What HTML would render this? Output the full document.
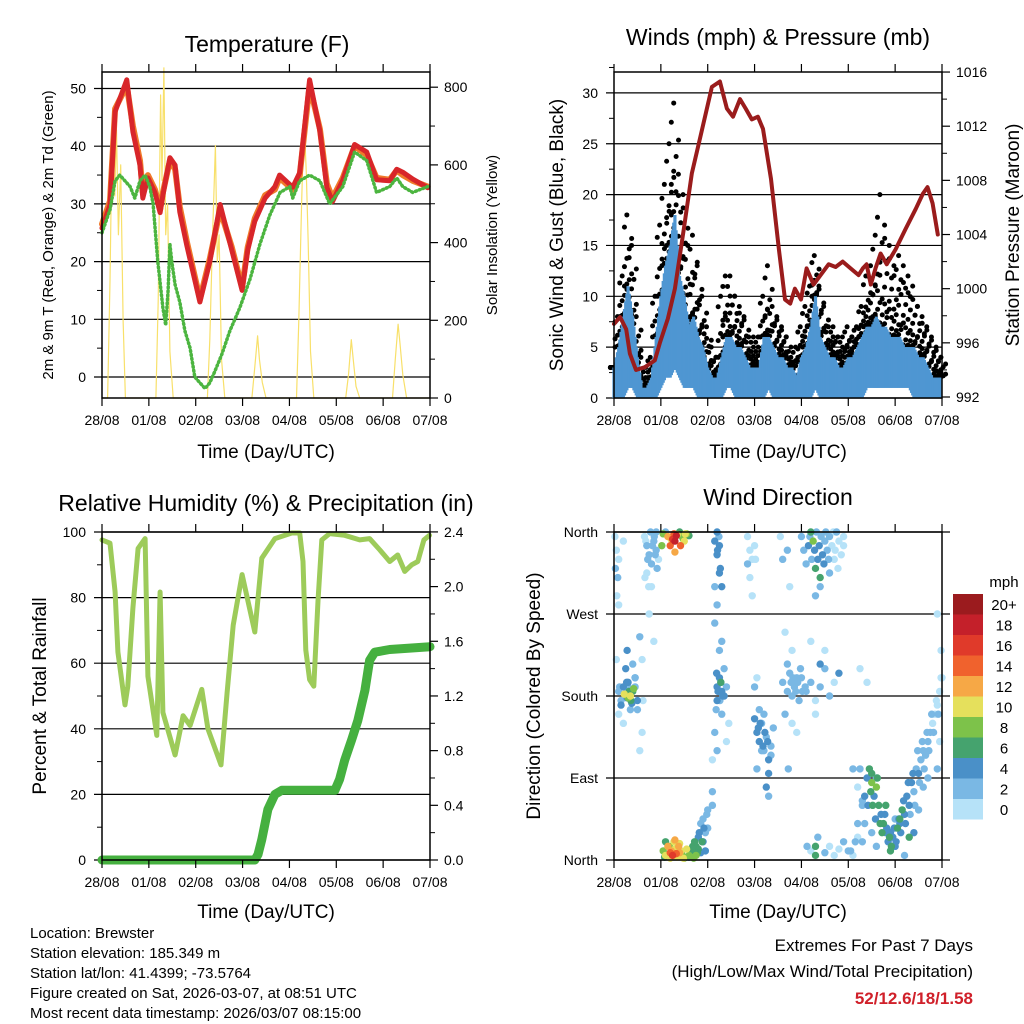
<!DOCTYPE html>
<html><head><meta charset="utf-8"><style>
body{margin:0;background:#fff}
svg{display:block;font-family:"Liberation Sans",sans-serif}
</style></head><body>
<svg id="s" width="1024" height="1024" viewBox="0 0 1024 1024" xmlns="http://www.w3.org/2000/svg">
<g font-size="23" text-anchor="middle" fill="#000">
<text x="267" y="52">Temperature (F)</text>
<text x="778" y="45">Winds (mph) &amp; Pressure (mb)</text>
<text x="266" y="511">Relative Humidity (%) &amp; Precipitation (in)</text>
<text x="778" y="505">Wind Direction</text>
</g>
<g font-size="19" text-anchor="middle">
<text x="266" y="458">Time (Day/UTC)</text>
<text x="778" y="458">Time (Day/UTC)</text>
<text x="266" y="918">Time (Day/UTC)</text>
<text x="778" y="918">Time (Day/UTC)</text>
<text transform="translate(563,235) rotate(-90)">Sonic Wind &amp; Gust (Blue, Black)</text>
<text transform="translate(1019,235) rotate(-90)">Station Pressure (Maroon)</text>
<text transform="translate(46,696) rotate(-90)">Percent &amp; Total Rainfall</text>
<text transform="translate(540,696) rotate(-90)">Direction (Colored By Speed)</text>
</g>
<g font-size="15" text-anchor="middle">
<text transform="translate(53,235) rotate(-90)">2m &amp; 9m T (Red, Orange) &amp; 2m Td (Green)</text>
<text transform="translate(497,235) rotate(-90)">Solar Insolation (Yellow)</text>
</g>
<g font-size="15">
<text x="30" y="938">Location: Brewster</text>
<text x="30" y="958">Station elevation: 185.349 m</text>
<text x="30" y="978">Station lat/lon: 41.4399; -73.5764</text>
<text x="30" y="998">Figure created on Sat, 2026-03-07, at 08:51 UTC</text>
<text x="30" y="1018">Most recent data timestamp: 2026/03/07 08:15:00</text>
</g>
<g font-size="17" text-anchor="end">
<text x="973" y="951">Extremes For Past 7 Days</text>
<text x="973" y="977">(High/Low/Max Wind/Total Precipitation)</text>
<text x="973" y="1004" fill="#d0202a" font-weight="bold">52/12.6/18/1.58</text>
</g>
</svg>
<script>
const dayLabels=["28/08","01/08","02/08","03/08","04/08","05/08","06/08","07/08"];
// Temperature panel
const tempT=[0,.17,.28,.53,.66,.81,.87,.98,1.13,1.24,1.30,1.45,1.56,1.66,1.81,2.09,2.30,2.52,2.77,2.99,3.11,3.26,3.48,3.69,3.79,4.07,4.22,4.43,4.65,4.80,4.92,5.14,5.39,5.65,5.86,6.14,6.29,6.42,6.63,6.95];
const tempRed=[25.8,29.8,46,51.5,42.5,36.7,31,34.5,32,28.5,31.5,38,36.7,28.6,22.8,13,20,29.9,22,15,22,27,31,33,35,32.9,35.4,51.5,42.6,32.8,30.4,34.1,40.3,39,34.2,34,36,35.5,34.3,32.8];
const tempOrange=[26.5,30.5,46.5,50.5,43.5,37.5,32,35,32.5,29,32,37.5,36,29.5,23.5,13.5,20.5,29,22.5,15.5,22.5,27.5,31.5,32.5,34.5,32.5,35,50.5,43,33.5,31,34.5,40,38.5,34.5,34.2,35.8,35,34,33];
const dewT=[0,.17,.28,.38,.60,.70,.81,.92,1.02,1.09,1.19,1.30,1.36,1.41,1.45,1.49,1.56,1.66,1.77,1.88,1.98,2.09,2.20,2.30,2.41,2.56,2.73,2.94,3.16,3.37,3.58,3.80,4.01,4.07,4.22,4.43,4.65,4.86,5.14,5.39,5.65,5.86,6.14,6.29,6.42,6.63,6.95];
const dewV=[25,29,34,35,33,31,34,35,33,30,20,12,9,15,23,20,16,13,8,5,0,-1,-2,-1,1,4,8,12,17,23,28,32,33,31,34,35,34,30,33,39,37.5,32,33,34.5,33,32,33];
const solarT=[0,.12,.17,.22,.27,.31,.35,.4,.45,.5,1.15,1.2,1.25,1.28,1.32,1.36,1.4,1.45,1.52,2.25,2.3,2.36,2.42,2.46,2.5,2.55,2.62,3.2,3.26,3.32,3.36,3.42,3.5,4.15,4.2,4.26,4.31,4.36,4.4,4.45,4.52,5.2,5.26,5.32,5.36,5.42,5.5,6.2,6.26,6.32,6.36,6.42,6.5,7];
const solarV=[0,0,300,720,520,690,420,600,200,0,0,250,780,560,850,420,500,120,0,0,150,420,650,350,420,100,0,0,80,160,100,40,0,0,200,500,720,580,400,120,0,0,60,150,100,30,0,0,100,190,140,60,0,0];
// Winds panel (sampled every 0.1 day)
const windT=[0,.1,.2,.3,.4,.5,.6,.7,.8,.9,1,1.1,1.2,1.3,1.4,1.5,1.6,1.7,1.8,1.9,2,2.1,2.2,2.3,2.4,2.5,2.6,2.7,2.8,2.9,3,3.1,3.2,3.3,3.4,3.5,3.6,3.7,3.8,3.9,4,4.1,4.2,4.3,4.4,4.5,4.6,4.7,4.8,4.9,5,5.1,5.2,5.3,5.4,5.5,5.6,5.7,5.8,5.9,6,6.1,6.2,6.3,6.4,6.5,6.6,6.7,6.8,6.9,7];
const gustV=[3,8,12,18,15,8,4,2,4,10,17,21,25,29,22,20,15,16,13,10,7,5,4,10,12,12,10,9,8,6,6,6,10,13,9,8,7,6,4,5,7,9,11,14,11,9,7,7,6,6,7,6,7,9,12,13,16,20,17,15,13,14,13,12,11,9,8,7,6,5,4];
const windV=[3,5,8,11,8,4,1,1,2,6,10,13,15,18,12,10,7,8,6,5,3,2,2,4,6,6,5,5,4,3,3,3,6,6,5,4,4,3,3,2,4,5,7,10,6,5,4,4,3,3,4,4,5,6,7,7,8,7,7,6,6,6,5,5,5,4,4,3,2,2,2];
const windLo=[0,0,0,1,1,0,0,0,0,0,1,2,2,3,2,1,1,1,0,0,0,0,0,0,1,1,0,0,0,0,0,0,0,1,0,0,0,0,0,0,0,0,0,1,0,0,0,0,0,0,0,0,0,0,1,1,1,1,1,1,1,1,1,1,0,0,0,0,0,0,0];
const presT=[0,0.13,0.26,0.34,0.47,0.66,0.87,0.98,1.15,1.3,1.49,1.66,1.83,2.09,2.26,2.41,2.54,2.69,2.81,2.94,3.07,3.18,3.35,3.52,3.65,3.76,3.86,3.99,4.11,4.26,4.41,4.58,4.73,4.88,5.05,5.22,5.31,5.39,5.48,5.58,5.69,5.82,6.01,6.22,6.44,6.59,6.69,6.8,6.91];
const presV=[997.4,997.9,997,995.2,994,994.2,994.7,996,997.8,1000,1004.4,1008.5,1011,1014.9,1015.3,1013.3,1012.7,1014,1013.3,1012.5,1012.7,1011.8,1008.1,1002.9,999.2,998.9,1000,999.2,1001.5,1000.3,1001,1001.8,1001.6,1002,1001.5,1001,1001.5,1001.8,1000.3,1001.5,1002.6,1001.8,1002.9,1004.4,1005.9,1007,1007.5,1006.3,1004];
// RH panel
const rhT=[0,.17,.28,.34,.49,.55,.66,.77,.92,.98,1.17,1.24,1.30,1.56,1.73,1.88,2.13,2.26,2.54,2.67,2.80,2.99,3.26,3.41,3.69,4.05,4.22,4.29,4.35,4.43,4.52,4.61,4.69,4.86,5.18,5.50,5.71,5.93,6.14,6.31,6.46,6.61,6.74,6.87,6.99];
const rhV=[97.6,96.6,81.7,63.4,47.3,53,76.8,95,98,56,38,81.7,45,32,44,41,52,40,29,51,71.6,87,69.5,92,98,99.7,99.7,91,64,55,53,79,97.6,99.5,99,97.6,98,94.5,91,93,88,90,91,97.6,99];
const rainT=[0,3.26,3.33,3.41,3.54,3.69,3.84,3.9,4.97,5.07,5.18,5.33,5.46,5.61,5.71,5.82,6.14,6.57,7];
const rainV=[0,0,0.04,0.15,0.37,0.48,0.51,0.51,0.51,0.59,0.73,0.88,1.02,1.24,1.46,1.52,1.54,1.55,1.56];
// Wind direction panel
const dirT=[0.02,0.05,0.03,0.08,0.1,0.06,0.1,0.1,0.15,0.2,0.25,0.3,0.35,0.4,0.38,0.3,0.45,0.25,0.4,0.45,0.1,0.2,0.5,0.6,0.55,0.05,0.35,0.65,0.7,0.75,0.8,0.85,0.9,0.7,0.8,0.9,0.95,0.75,0.85,1.05,1.15,1.25,1.3,1.35,1.45,1.5,1.55,1.2,1.3,1.4,1.6,1.05,1.1,1.15,1.2,1.25,1.3,1.35,1.4,1.45,1.5,1.1,1.3,1.2,1.4,1.6,1.65,1.7,1.75,1.8,1.85,1.9,1.95,2.0,1.9,2.0,1.85,1.75,1.8,2.1,2.1,2.15,2.2,2.25,2.2,2.3,2.25,2.15,2.2,2.3,2.25,2.2,2.15,2.2,2.25,2.35,2.4,2.3,2.45,2.4,2.35,2.3,2.2,2.1,2.28,2.85,2.9,2.95,2.9,3.0,2.95,2.85,3.0,3.05,3.1,3.15,3.2,3.25,3.3,3.3,3.1,3.2,3.35,3.4,3.25,3.3,3.0,3.05,3.6,3.7,3.75,3.8,3.85,3.9,3.95,3.7,3.8,3.65,3.75,3.6,3.7,3.55,3.65,3.8,3.9,4.0,4.05,4.1,4.15,4.2,4.25,4.3,4.35,4.4,4.45,4.5,4.55,4.6,4.7,4.8,4.9,4.4,4.3,4.6,4.75,4.0,4.1,4.2,4.3,4.4,4.5,4.6,4.7,4.8,4.5,4.3,4.2,4.4,4.3,4.3,4.35,4.2,4.5,4.6,4.7,4.8,4.9,5.0,5.1,5.2,5.2,5.25,5.3,5.35,5.4,5.45,5.5,5.5,5.55,5.6,5.65,5.7,5.75,5.8,5.85,5.9,5.95,6.0,6.05,6.1,6.15,6.2,6.25,6.3,6.35,6.4,6.45,6.5,6.55,6.6,6.65,6.7,6.75,6.8,6.85,6.9,6.95,7.0,5.4,5.5,5.3,5.6,5.9,6.0,6.2,6.4,5.2,5.1,5.7,5.8,6.1,6.3,6.5,6.6,6.7,6.9,6.95,6.98,6.9];
const dirDeg=[355,340,320,310,330,290,280,185,175,190,182,178,180,185,172,195,190,210,215,200,160,150,165,140,120,220,165,355,345,335,325,350,340,315,300,360,330,270,240,358,355,352,350,357,355,350,358,345,338,360,356,10,5,15,8,5,12,3,18,6,2,20,22,2,8,3,10,2,15,25,8,20,30,35,45,55,40,5,12,75,110,140,190,200,175,185,230,260,280,300,315,335,350,360,345,180,190,160,150,130,210,240,120,60,195,355,340,330,310,345,290,325,155,140,130,150,120,135,110,95,165,160,125,145,80,70,190,200,195,185,205,180,190,200,175,215,230,250,300,330,340,355,160,150,140,355,340,325,345,360,350,320,330,310,335,350,340,355,330,350,345,300,290,315,360,200,185,195,175,190,210,180,195,205,230,160,240,215,5,15,25,10,8,15,5,12,20,10,5,25,80,100,60,40,90,100,85,95,70,80,60,50,40,30,20,10,25,15,35,40,55,50,70,60,85,75,100,95,110,120,115,130,140,150,160,170,185,200,195,30,20,15,30,45,5,30,40,100,50,60,45,25,55,80,90,100,130,230,270,350];
const dirSpd=[1,1,2,2,1,1,0,2,3,4,6,8,10,6,4,4,3,4,3,2,1,1,2,1,1,1,3,1,2,2,2,2,3,1,1,2,1,1,1,8,12,16,18,10,9,10,8,14,12,6,6,8,10,12,14,16,10,10,10,8,8,6,12,10,12,4,6,8,6,4,4,4,3,3,2,2,3,8,6,2,1,2,4,4,4,5,3,2,3,4,4,4,4,4,5,4,3,2,1,1,2,2,2,2,6,1,1,1,1,1,1,2,4,4,4,3,3,3,4,4,3,2,2,2,4,3,2,1,2,2,3,2,3,2,2,2,1,1,1,2,2,1,2,1,1,3,2,3,4,6,8,6,4,6,4,2,2,2,1,1,1,3,2,2,2,2,2,2,1,2,2,2,1,4,1,1,1,4,6,6,2,1,2,1,1,1,2,2,1,1,1,3,3,3,4,6,8,6,4,8,6,4,6,4,4,6,4,4,6,4,6,4,4,4,4,2,2,4,2,2,2,2,2,1,1,1,1,1,1,2,2,2,4,2,2,4,2,2,1,6,6,6,2,2,2,2,1,1,1,1];
const dirTExtra=[0.2,0.28,0.32,0.36,0.42,0.33,0.22,0.27,0.15,0.12,0.45,0.5,0.3,0.28,0.55,0.6,0.62,0.68,0.72,0.78,0.82,0.88,0.92,0.66,0.74,0.86,1.1,1.22,1.28,1.33,1.42,1.48,1.52,1.02,1.08,1.18,1.22,1.28,1.33,1.38,1.43,1.48,1.55,1.6,1.68,1.72,1.78,1.82,1.88,1.92,1.95,1.98,5.3,5.35,5.42,5.48,5.52,5.58,5.62,5.68,5.72,5.78,5.82,5.88,5.92,5.98,6.02,6.08,6.12,6.18,6.22,6.28,6.32,6.38,6.42,6.48,6.52,6.58,6.62,6.68,6.72,6.78,6.82,6.88,6.92,6.98,5.25,5.15,5.05,5.6,4.12,4.18,4.22,4.28,4.32,4.38,4.42,4.48,4.52,4.58,4.65,4.68,4.72,4.78,4.85,4.9,3.02,3.08,3.12,3.18,3.22,3.28,3.15,3.35,3.05,2.18,2.22,2.28,2.32,2.26,2.19,2.21,2.24,2.27,2.15,3.72,3.78,3.82,3.88,3.92,3.98,4.02,4.08];
const dirDegExtra=[178,185,175,188,178,182,195,170,190,200,175,190,230,245,220,175,350,330,360,345,335,320,310,300,355,360,352,358,356,345,352,358,345,3,15,10,20,7,15,10,2,12,5,15,20,8,30,20,35,10,50,65,70,60,75,60,45,90,40,30,50,35,25,15,35,20,45,30,65,40,85,50,95,60,120,85,130,100,140,120,160,140,175,160,200,210,20,10,90,15,355,330,340,360,345,355,325,360,330,345,360,340,320,335,355,330,145,150,125,140,130,120,115,100,165,185,195,180,175,205,340,355,320,300,100,195,200,185,195,210,185,190,200];
const dirSpdExtra=[4,6,6,8,6,10,4,4,3,2,4,2,4,3,1,1,1,2,2,3,2,2,1,1,2,2,10,14,18,14,8,10,8,6,8,12,10,14,12,10,10,10,8,6,6,6,4,6,4,4,2,2,4,4,6,6,4,6,6,6,4,4,6,6,4,4,4,4,4,4,4,2,4,2,2,2,2,2,2,2,2,2,1,2,1,1,2,2,2,2,2,3,4,2,4,2,4,2,2,1,1,1,1,1,1,1,4,4,4,4,4,3,3,2,3,4,5,4,3,4,4,3,4,3,2,3,2,3,2,2,2,2,1];
const speedLabels=["20+","18","16","14","12","10","8","6","4","2","0"];
const speedColors=["#9b1b1e","#c4202a","#e03a2a","#f0622d","#f6a846","#e5e05c","#7dc24a","#45a36e","#4a90c8","#7ab8e4","#b6e2f8"];

const NS="http://www.w3.org/2000/svg",S=document.getElementById('s');
function el(tag,attrs,parent){const e=document.createElementNS(NS,tag);for(const k in attrs)e.setAttribute(k,attrs[k]);(parent||S).appendChild(e);return e;}
function txt(x,y,s,anchor,size,parent){const t=el('text',{x:x,y:y,'text-anchor':anchor,'font-size':size},parent);t.textContent=s;return t;}
function panel(name,L,R,T,B){
  const g=el('g',{});
  
  
  const xs=t=>L+t*(R-L)/7;
  return {g,L,R,T,B,xs};
}
function frame(p){
  el('rect',{x:p.L,y:p.T,width:p.R-p.L,height:p.B-p.T,fill:'none',stroke:'#000','stroke-width':1.5},p.g);
  for(let i=0;i<8;i++){const x=p.xs(i);
    el('line',{x1:x,x2:x,y1:p.B,y2:p.B+8,stroke:'#000','stroke-width':1.2},p.g);
    el('line',{x1:x,x2:x,y1:p.T,y2:p.T-8,stroke:'#000','stroke-width':1.2},p.g);
    const lab=txt(x,p.B+27,dayLabels[i],'middle',14,p.g);
    
    
  }
}
function leftAxis(p,ticks,ys,fmt,minor){
  ticks.forEach(v=>{const y=ys(v);
    el('line',{x1:p.L-8,x2:p.R,y1:y,y2:y,stroke:'#000','stroke-width':1.2},p.g);
    const t=txt(p.L-16,y+5,fmt(v),'end',14,p.g);
    
    
  });
  (minor||[]).forEach(v=>{const y=ys(v);el('line',{x1:p.L-5,x2:p.L,y1:y,y2:y,stroke:'#000'},p.g);});
}
function rightAxis(p,ticks,ys,fmt,minor){
  ticks.forEach(v=>{const y=ys(v);
    el('line',{x1:p.R,x2:p.R+8,y1:y,y2:y,stroke:'#000','stroke-width':1.2},p.g);
    const t=txt(p.R+14,y+5,fmt(v),'start',14,p.g);
    
    
  });
  (minor||[]).forEach(v=>{const y=ys(v);el('line',{x1:p.R,x2:p.R+5,y1:y,y2:y,stroke:'#000'},p.g);});
}
function line(p,T,V,ys,attrs,name){
  const n=Math.min(T.length,V.length);
  const d=T.slice(0,n).map((t,i)=>(i?'L':'M')+p.xs(t).toFixed(1)+' '+ys(V[i]).toFixed(1)).join('');
  const e=el('path',Object.assign({d:d,fill:'none','stroke-linejoin':'round','stroke-linecap':'round'},attrs),p.g);
  
  
  return e;
}

// ---- Panel 1: Temperature
const p1=panel('temperature-chart',102,430,72,398);
const y1=v=>377-v*5.77, y1r=v=>398-v*0.3885;
leftAxis(p1,[0,10,20,30,40,50],y1,v=>v,[5,15,25,35,45]);
rightAxis(p1,[0,200,400,600,800],y1r,v=>v,[100,300,500,700]);
line(p1,solarT,solarV,y1r,{stroke:'#f8e06a','stroke-width':1.2},'solar-insolation-line');
line(p1,tempT,tempOrange,y1,{stroke:'#f07a2a','stroke-width':6},'temp-9m-line');
line(p1,tempT,tempRed,y1,{stroke:'#d8262a','stroke-width':5},'temp-2m-line');
line(p1,dewT,dewV,y1,{stroke:'#4cb540','stroke-width':3.5,'stroke-dasharray':'1 3'},'dewpoint-line');
frame(p1);

// ---- Panel 2: Winds & pressure
const p2=panel('winds-chart',614,942,72,398);
const y2=v=>398-v*10.17, y2r=v=>397-(v-992)*13.54;
leftAxis(p2,[0,5,10,15,20,25,30],y2,v=>v,[2.5,7.5,12.5,17.5,22.5,27.5,32.5]);
rightAxis(p2,[992,996,1000,1004,1008,1012,1016],y2r,v=>v,[994,998,1002,1006,1010,1014]);
const gustG=el('g',{fill:'#000'},p2.g);


windT.forEach((t,i)=>{
  for(let k=0;k<=9;k++){
    const v=windV[i]+(gustV[i]-windV[i])*Math.pow(k/9,1.6);
    const x=p2.xs(t)+((k%4)-1.5)*2.4;
    const c=el('circle',{cx:x,cy:y2(v),r:2.5},gustG);
    
    
  }
});
const windG=el('g',{stroke:'#4f96d2','stroke-width':3.2},p2.g);


windT.forEach((t,i)=>{
  if(i===0)return;
  for(let k=0;k<4;k++){
    const x=p2.xs(windT[i-1]+(t-windT[i-1])*k/4);
    const hi=windV[i-1]+(windV[i]-windV[i-1])*k/4;
    const lo=windLo[i-1]+(windLo[i]-windLo[i-1])*k/4;
    const b=el('line',{x1:x,x2:x,y1:y2(lo),y2:y2(hi)},windG);
    
    
  }
});
line(p2,presT,presV,y2r,{stroke:'#9a1c1c','stroke-width':4},'pressure-line');
frame(p2);

// ---- Panel 3: RH & precip
const p3=panel('humidity-chart',102,430,532,860);
const y3=v=>860-v*3.28, y3r=v=>860-v*136.7;
leftAxis(p3,[0,20,40,60,80,100],y3,v=>v,[10,30,50,70,90]);
rightAxis(p3,[0,0.4,0.8,1.2,1.6,2.0,2.4],y3r,v=>v.toFixed(1),[0.2,0.6,1.0,1.4,1.8,2.2]);
line(p3,rhT,rhV,y3,{stroke:'#9dcb5a','stroke-width':5},'relative-humidity-line');
line(p3,rainT,rainV,y3r,{stroke:'#45b03f','stroke-width':9},'rainfall-line');
frame(p3);

// ---- Panel 4: Wind direction
const p4=panel('wind-direction-chart',614,942,532,860);
const y4=d=>860-d/360*328;
const dirTicks=[0,90,180,270,360], dirNames=["North","East","South","West","North"];
dirTicks.forEach((d,i)=>{const y=y4(d);
  el('line',{x1:p4.L-8,x2:p4.R+8,y1:y,y2:y,stroke:'#000','stroke-width':1.2},p4.g);
  const t=txt(p4.L-16,y+5,dirNames[i],'end',14,p4.g);
  
  
});
const dotG=el('g',{},p4.g);


const allT=dirT.concat(dirTExtra), allD=dirDeg.concat(dirDegExtra), allS=dirSpd.concat(dirSpdExtra);
const idx=[];
for(let i=0;i<allT.length;i++){ if(allT[i]!==undefined&&allD[i]!==undefined&&allS[i]!==undefined) idx.push(i); }
idx.sort((a,b)=>allS[a]-allS[b]);
idx.forEach(i=>{
  const bin=Math.min(10,Math.floor(allS[i]/2));
  const c=el('circle',{cx:p4.xs(allT[i]),cy:y4(allD[i]),r:3.7,fill:speedColors[10-bin]},dotG);
  
  
});
frame(p4);
// colorbar
const cb=el('g',{},S);


txt(1004,587,'mph','middle',15,cb);
speedLabels.forEach((s,i)=>{
  const y=594+i*20.5;
  const r=el('rect',{x:953,y:y,width:30,height:20.5,fill:speedColors[i]},cb);
  
  
  txt(1004,y+16,s,'middle',15,cb);
});
</script>
</body></html>
